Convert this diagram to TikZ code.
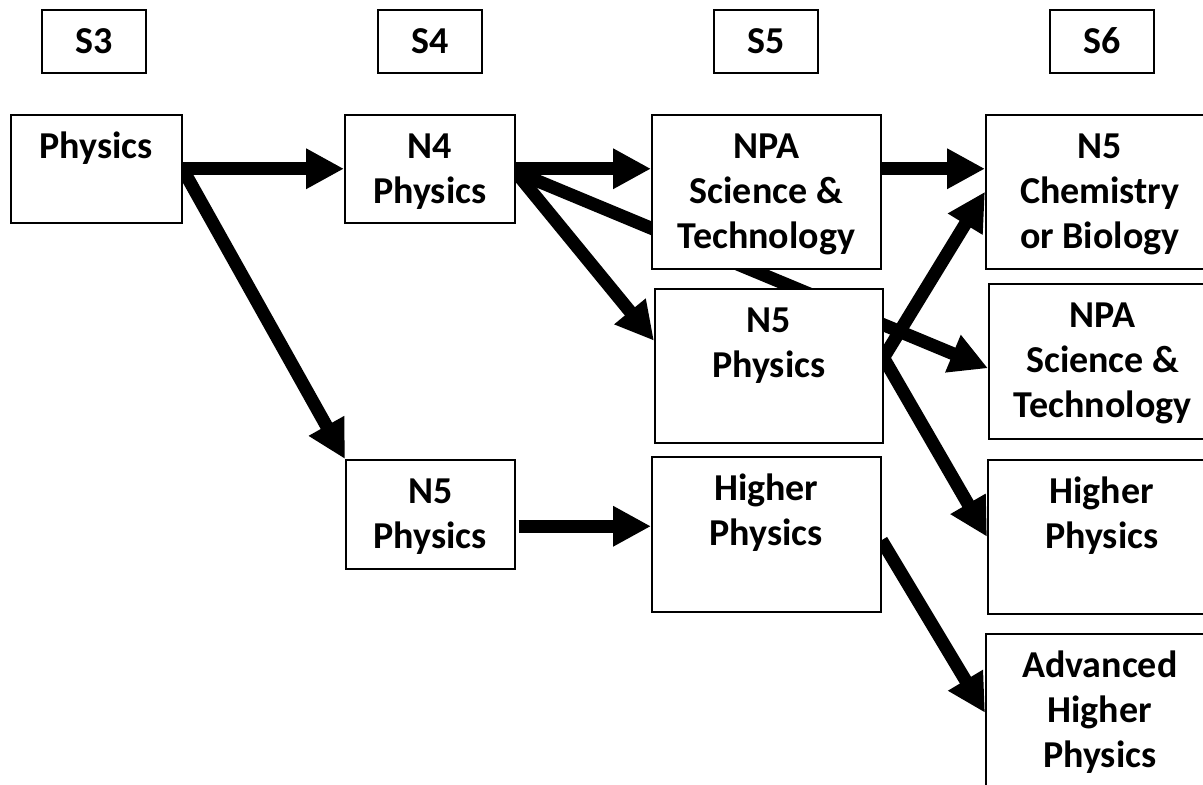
\documentclass[tikz,border=0pt]{standalone}
\usepackage{fontspec}
\setmainfont{Carlito}
\usetikzlibrary{arrows.meta}
\pgfdeclarelayer{bg}
\pgfsetlayers{bg,main}
\newcommand{\firstln}{\rule{0pt}{27pt}}
\begin{document}
\begin{tikzpicture}[x=1pt,y=-1pt,
  box/.style={draw, line width=1.5pt, fill=white, inner sep=0pt, anchor=north west},
  lbl/.style={font=\bfseries\fontsize{38}{45}\selectfont, align=center, inner sep=0pt, anchor=north},
  arr/.style={line width=13pt, -{Triangle[length=38pt,width=38pt]}}]
\useasboundingbox (0,0) rectangle (1203,785);
% header boxes
\node[box, minimum width=104pt, minimum height=63pt] (s3) at (41,9) {};
\node[box, minimum width=104pt, minimum height=63pt] (s4) at (377,9) {};
\node[box, minimum width=104pt, minimum height=63pt] (s5) at (713,9) {};
\node[box, minimum width=104pt, minimum height=63pt] (s6) at (1049,9) {};
\node[lbl] (s3t) at ([yshift=-17pt]s3.north) {\firstln S3};
\node[lbl] (s4t) at ([yshift=-17pt]s4.north) {\firstln S4};
\node[lbl] (s5t) at ([yshift=-17pt]s5.north) {\firstln S5};
\node[lbl] (s6t) at ([yshift=-17pt]s6.north) {\firstln S6};
% course boxes
\node[box, minimum width=171pt, minimum height=108pt] (phys) at (10,114) {};
\node[box, minimum width=170pt, minimum height=108pt] (n4) at (344,114) {};
\node[box, minimum width=169pt, minimum height=109pt] (n5a) at (345,459) {};
\node[box, minimum width=229pt, minimum height=154pt] (npa5) at (651,114) {};
\node[box, minimum width=228pt, minimum height=154pt] (n5p5) at (654,288) {};
\node[box, minimum width=229pt, minimum height=155pt] (hp5) at (651,456) {};
\node[box, minimum width=228pt, minimum height=154pt] (chem) at (985,114) {};
\node[box, minimum width=228pt, minimum height=155pt] (npa6) at (988,283) {};
\node[box, minimum width=228pt, minimum height=154pt] (hp6) at (987,459) {};
\node[box, minimum width=228pt, minimum height=158pt] (ah) at (985,633) {};
% labels
\node[lbl] (physT) at ([yshift=-17pt]phys.north) {\firstln Physics};
\node[lbl] (n4T) at ([yshift=-17pt]n4.north) {\firstln N4\\Physics};
\node[lbl] (n5aT) at ([yshift=-17pt]n5a.north) {\firstln N5\\Physics};
\node[lbl] (npa5T) at ([yshift=-17pt]npa5.north) {\firstln NPA\\Science \&\\Technology};
\node[lbl] (n5p5T) at ([yshift=-17pt]n5p5.north) {\firstln N5\\Physics};
\node[lbl] (hp5T) at ([yshift=-17pt]hp5.north) {\firstln Higher\\Physics};
\node[lbl] (chemT) at ([yshift=-17pt]chem.north) {\firstln N5\\Chemistry\\or Biology};
\node[lbl] (npa6T) at ([yshift=-17pt]npa6.north) {\firstln NPA\\Science \&\\Technology};
\node[lbl] (hp6T) at ([yshift=-17pt]hp6.north) {\firstln Higher\\Physics};
\node[lbl] (ahT) at ([yshift=-17pt]ah.north) {\firstln Advanced\\Higher\\Physics};
% connectors
\begin{pgfonlayer}{bg}
\draw[arr] (phys.east) -- (n4.west);
\draw[arr] (phys.east) -- (n5a.north west);
\draw[arr] ([yshift=-3pt]n4.east) -- ([yshift=-7pt]npa6.west);
\draw[arr] (n4.east) -- (n4.east -| npa5.west);
\draw[arr] ([yshift=-3pt]n4.east) -- ([yshift=25pt]n5p5.west);
\draw[arr] ([yshift=23pt]npa5.east) -- ([yshift=23pt]chem.west);
\draw[arr] ([yshift=8pt]n5p5.east) -- (chem.west);
\draw[arr] ([yshift=8pt]n5p5.east) -- (hp6.west);
\draw[arr] ([xshift=3pt,yshift=-12pt]n5a.east) -- ([yshift=8pt]hp5.west);
\draw[arr] ([yshift=-6pt]hp5.east) -- (ah.west);
\end{pgfonlayer}
\end{tikzpicture}
\end{document}
